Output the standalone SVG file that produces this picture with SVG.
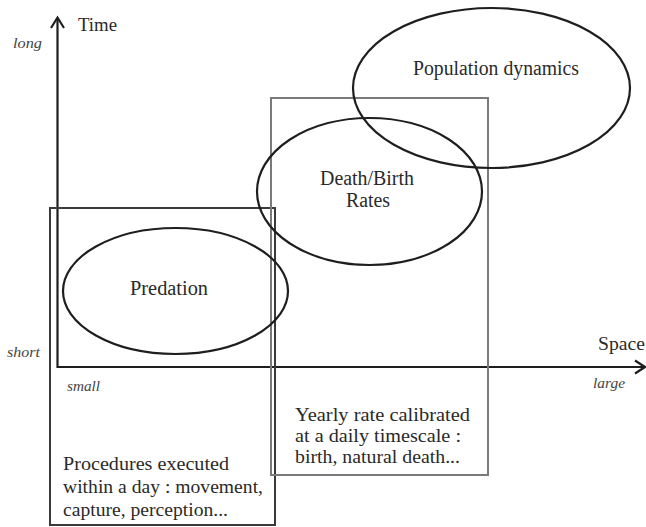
<svg xmlns="http://www.w3.org/2000/svg" width="646" height="527" viewBox="0 0 646 527">
<style>
text{fill:#2a2a2a}
.lbl{font-size:20px;text-anchor:middle}
.box{font-size:19.5px}
.ax{font-size:18.5px}
.it{font-size:14px;font-style:italic;fill:#444}
.ell{fill:none;stroke:#1e1e1e;stroke-width:2.2}
.rdark{fill:none;stroke:#3a3a3a;stroke-width:2}
.rgray{fill:none;stroke:#7a7a7a;stroke-width:2}
.axis{fill:none;stroke:#1e1e1e;stroke-width:2.2}
</style>
<rect width="646" height="527" fill="#ffffff"/>
<g id="connectors">
<path class="axis" d="M57.5,18 V367 H644"/>
<path class="axis" d="M51,28 L57.5,17.5 L64,28"/>
<path class="axis" d="M635,360.5 L645,367 L635,373.5"/>
</g>
<g id="axis-labels" font-family="Liberation Serif">
<text class="ax" font-family="Liberation Serif" x="78" y="31" textLength="39" lengthAdjust="spacingAndGlyphs">Time</text>
<text class="ax" font-family="Liberation Serif" x="598" y="350" textLength="47" lengthAdjust="spacingAndGlyphs">Space</text>
<text class="it" font-family="Liberation Serif" x="13" y="48" textLength="29" lengthAdjust="spacingAndGlyphs">long</text>
<text class="it" font-family="Liberation Serif" x="7" y="357" textLength="33" lengthAdjust="spacingAndGlyphs">short</text>
<text class="it" font-family="Liberation Serif" x="67" y="391" textLength="33" lengthAdjust="spacingAndGlyphs">small</text>
<text class="it" font-family="Liberation Serif" x="593" y="388" textLength="32" lengthAdjust="spacingAndGlyphs">large</text>
</g>
<g id="daily-box" font-family="Liberation Serif">
<rect class="rdark" x="50" y="208" width="225" height="317"/>
<text class="box" font-family="Liberation Serif" x="63" y="470" textLength="166" lengthAdjust="spacingAndGlyphs">Procedures executed</text>
<text class="box" font-family="Liberation Serif" x="63" y="493" textLength="200" lengthAdjust="spacingAndGlyphs">within a day : movement,</text>
<text class="box" font-family="Liberation Serif" x="63" y="516" textLength="165" lengthAdjust="spacingAndGlyphs">capture, perception...</text>
</g>
<g id="yearly-box" font-family="Liberation Serif">
<rect class="rgray" x="271" y="98" width="217" height="377"/>
<text class="box" font-family="Liberation Serif" x="295" y="421" textLength="175" lengthAdjust="spacingAndGlyphs">Yearly rate calibrated</text>
<text class="box" font-family="Liberation Serif" x="295" y="442" textLength="166" lengthAdjust="spacingAndGlyphs">at a daily timescale :</text>
<text class="box" font-family="Liberation Serif" x="295" y="463" textLength="165" lengthAdjust="spacingAndGlyphs">birth, natural death...</text>
</g>
<g id="predation" font-family="Liberation Serif">
<ellipse class="ell" cx="175.5" cy="291" rx="112.5" ry="63"/>
<text class="lbl" font-family="Liberation Serif" x="169" y="295" textLength="78" lengthAdjust="spacingAndGlyphs">Predation</text>
</g>
<g id="death-birth" font-family="Liberation Serif">
<ellipse class="ell" cx="369.5" cy="191.5" rx="112.5" ry="73.5"/>
<text class="lbl" font-family="Liberation Serif" x="367" y="185" textLength="94" lengthAdjust="spacingAndGlyphs">Death/Birth</text>
<text class="lbl" font-family="Liberation Serif" x="368" y="207" textLength="44" lengthAdjust="spacingAndGlyphs">Rates</text>
</g>
<g id="population" font-family="Liberation Serif">
<ellipse class="ell" cx="491.5" cy="88" rx="138.5" ry="80"/>
<text class="lbl" font-family="Liberation Serif" x="496" y="75" textLength="166" lengthAdjust="spacingAndGlyphs">Population dynamics</text>
</g>
</svg>
